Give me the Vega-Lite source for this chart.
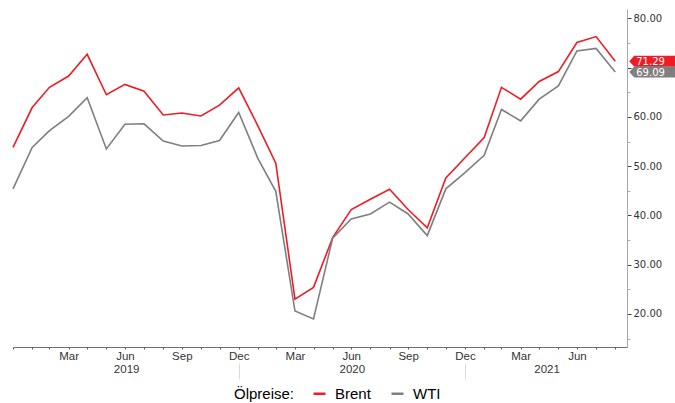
{
  "$schema": "https://vega.github.io/schema/vega-lite/v6.json",
  "autosize": {"type": "none"},
  "padding": {"left": 13, "top": 9, "right": 48, "bottom": 56},
  "width": 614,
  "height": 338,
  "background": "white",
  "config": {"view": {"stroke": null}},
  "data": {
    "values": [
      {"date": "2018-12-31", "Brent": 53.8, "WTI": 45.4},
      {"date": "2019-01-31", "Brent": 61.9, "WTI": 53.8},
      {"date": "2019-02-28", "Brent": 66.0, "WTI": 57.2},
      {"date": "2019-03-31", "Brent": 68.3, "WTI": 60.1},
      {"date": "2019-04-30", "Brent": 72.7, "WTI": 63.9},
      {"date": "2019-05-31", "Brent": 64.5, "WTI": 53.5},
      {"date": "2019-06-30", "Brent": 66.6, "WTI": 58.5},
      {"date": "2019-07-31", "Brent": 65.2, "WTI": 58.6},
      {"date": "2019-08-31", "Brent": 60.4, "WTI": 55.1},
      {"date": "2019-09-30", "Brent": 60.8, "WTI": 54.1},
      {"date": "2019-10-31", "Brent": 60.2, "WTI": 54.2},
      {"date": "2019-11-30", "Brent": 62.4, "WTI": 55.2},
      {"date": "2019-12-31", "Brent": 65.9, "WTI": 60.9},
      {"date": "2020-01-31", "Brent": 58.2, "WTI": 51.6},
      {"date": "2020-02-29", "Brent": 50.6, "WTI": 44.9},
      {"date": "2020-03-31", "Brent": 23.0, "WTI": 20.6},
      {"date": "2020-04-30", "Brent": 25.4, "WTI": 19.0},
      {"date": "2020-05-31", "Brent": 35.5, "WTI": 35.4},
      {"date": "2020-06-30", "Brent": 41.2, "WTI": 39.3},
      {"date": "2020-07-31", "Brent": 43.3, "WTI": 40.3},
      {"date": "2020-08-31", "Brent": 45.3, "WTI": 42.7},
      {"date": "2020-09-30", "Brent": 41.2, "WTI": 40.3},
      {"date": "2020-10-31", "Brent": 37.5, "WTI": 35.9},
      {"date": "2020-11-30", "Brent": 47.6, "WTI": 45.4},
      {"date": "2020-12-31", "Brent": 51.7, "WTI": 48.7},
      {"date": "2021-01-31", "Brent": 55.8, "WTI": 52.2},
      {"date": "2021-02-28", "Brent": 66.0, "WTI": 61.5},
      {"date": "2021-03-31", "Brent": 63.6, "WTI": 59.2},
      {"date": "2021-04-30", "Brent": 67.2, "WTI": 63.6},
      {"date": "2021-05-31", "Brent": 69.2, "WTI": 66.3},
      {"date": "2021-06-30", "Brent": 75.1, "WTI": 73.4},
      {"date": "2021-07-31", "Brent": 76.3, "WTI": 73.9},
      {"date": "2021-08-31", "Brent": 71.29, "WTI": 69.09}
    ]
  },
  "transform": [
    {"fold": ["Brent", "WTI"], "as": ["series", "value"]}
  ],
  "resolve": {"axis": {"x": "independent", "y": "independent"}},
  "layer": [
    {
      "mark": {"type": "line", "strokeWidth": 1.6},
      "encoding": {
        "x": {
          "field": "date", "type": "temporal",
          "scale": {"type": "utc", "domain": [{"year": 2018, "month": 12, "date": 31, "utc": true}, {"year": 2021, "month": 9, "date": 19, "utc": true}]},
          "axis": {
            "orient": "bottom", "title": null, "grid": false,
            "values": [
              {"year": 2018, "month": 12, "date": 31, "utc": true},
              {"year": 2019, "month": 1, "date": 31, "utc": true},
              {"year": 2019, "month": 2, "date": 28, "utc": true},
              {"year": 2019, "month": 3, "date": 31, "utc": true},
              {"year": 2019, "month": 4, "date": 30, "utc": true},
              {"year": 2019, "month": 5, "date": 31, "utc": true},
              {"year": 2019, "month": 6, "date": 30, "utc": true},
              {"year": 2019, "month": 7, "date": 31, "utc": true},
              {"year": 2019, "month": 8, "date": 31, "utc": true},
              {"year": 2019, "month": 9, "date": 30, "utc": true},
              {"year": 2019, "month": 10, "date": 31, "utc": true},
              {"year": 2019, "month": 11, "date": 30, "utc": true},
              {"year": 2019, "month": 12, "date": 31, "utc": true},
              {"year": 2020, "month": 1, "date": 31, "utc": true},
              {"year": 2020, "month": 2, "date": 29, "utc": true},
              {"year": 2020, "month": 3, "date": 31, "utc": true},
              {"year": 2020, "month": 4, "date": 30, "utc": true},
              {"year": 2020, "month": 5, "date": 31, "utc": true},
              {"year": 2020, "month": 6, "date": 30, "utc": true},
              {"year": 2020, "month": 7, "date": 31, "utc": true},
              {"year": 2020, "month": 8, "date": 31, "utc": true},
              {"year": 2020, "month": 9, "date": 30, "utc": true},
              {"year": 2020, "month": 10, "date": 31, "utc": true},
              {"year": 2020, "month": 11, "date": 30, "utc": true},
              {"year": 2020, "month": 12, "date": 31, "utc": true},
              {"year": 2021, "month": 1, "date": 31, "utc": true},
              {"year": 2021, "month": 2, "date": 28, "utc": true},
              {"year": 2021, "month": 3, "date": 31, "utc": true},
              {"year": 2021, "month": 4, "date": 30, "utc": true},
              {"year": 2021, "month": 5, "date": 31, "utc": true},
              {"year": 2021, "month": 6, "date": 30, "utc": true},
              {"year": 2021, "month": 7, "date": 31, "utc": true},
              {"year": 2021, "month": 8, "date": 31, "utc": true}
            ],
            "labelExpr": "(datum.value > utc(2019, 0, 15) && indexof([2, 5, 8, 11], utcmonth(datum.value)) >= 0) ? utcFormat(datum.value, '%b') : ''",
            "labelOverlap": false, "labelFlush": false,
            "labelFont": "Liberation Sans", "labelFontSize": 11.5, "labelColor": "#333333",
            "labelPadding": 1, "labelBaseline": "top",
            "tickSize": 2, "tickColor": "#555555", "domainColor": "#6e6e6e", "domainWidth": 1
          }
        },
        "y": {
          "field": "value", "type": "quantitative",
          "scale": {"domain": [13.3, 81.9], "nice": false, "zero": false},
          "axis": {
            "orient": "right", "title": null, "grid": false,
            "values": [20, 30, 40, 50, 60, 70, 80], "format": ".2f",
            "labelFont": "DejaVu Sans", "labelFontSize": 10, "labelColor": "#333333",
            "labelPadding": 2, "tickSize": 4, "tickColor": "#404040",
            "domainColor": "#a8a8a8"
          }
        },
        "color": {
          "field": "series", "type": "nominal",
          "scale": {"domain": ["Brent", "WTI"], "range": ["#ee1c24", "#7f7f7f"]},
          "legend": {
            "orient": "none", "legendX": 221, "legendY": 377,
            "direction": "horizontal", "title": "Ölpreise:", "titleOrient": "left",
            "titleFont": "Liberation Sans", "titleFontSize": 15, "titleFontWeight": "normal", "titleColor": "#000000",
            "titlePadding": 17, "titleBaseline": "middle",
            "labelFont": "Liberation Sans", "labelFontSize": 15, "labelColor": "#000000",
            "symbolType": "stroke", "symbolSize": 144, "symbolStrokeWidth": 2.5,
            "labelOffset": 8, "columnPadding": 15, "padding": 0
          }
        }
      }
    },
    {
      "transform": [{"filter": "time(datum.date) > utc(2021, 7, 15)"}],
      "mark": {"type": "point", "filled": true, "opacity": 1, "strokeWidth": 0, "size": 4, "shape": "M14,0L19,-5.5L80,-5.5L80,5.5L19,5.5Z"},
      "encoding": {
        "x": {
          "field": "date", "type": "temporal",
          "axis": {
            "orient": "bottom", "title": null, "grid": false, "domain": false, "ticks": false, "tickSize": 0,
            "values": [
              {"year": 2019, "month": 7, "date": 2, "utc": true},
              {"year": 2020, "month": 7, "date": 1, "utc": true},
              {"year": 2021, "month": 5, "date": 12, "utc": true}
            ],
            "labelExpr": "utcFormat(datum.value, '%Y')",
            "labelFont": "Liberation Sans", "labelFontSize": 11.5, "labelColor": "#333333",
            "labelPadding": 16, "labelBaseline": "top", "labelFlush": false, "labelOverlap": false
          }
        },
        "y": {
          "field": "value", "type": "quantitative",
          "axis": {
            "orient": "right", "title": null, "grid": false, "labels": false, "domain": false,
            "values": [15, 25, 35, 45, 55, 65, 75], "tickSize": 3, "tickColor": "#b0b0b0"
          }
        },
        "color": {"field": "series", "type": "nominal", "legend": null}
      }
    },
    {
      "transform": [{"filter": "time(datum.date) > utc(2021, 7, 15)"}],
      "mark": {"type": "text", "align": "left", "baseline": "middle", "dx": 21, "dy": 0.5, "color": "#ffffff", "font": "DejaVu Sans", "fontSize": 10},
      "encoding": {
        "x": {
          "field": "date", "type": "temporal",
          "axis": {
            "orient": "bottom", "title": null, "grid": false, "domain": false, "labels": false,
            "values": [
              {"year": 2019, "month": 12, "date": 31, "utc": true},
              {"year": 2020, "month": 12, "date": 31, "utc": true}
            ],
            "offset": 16, "tickSize": 16, "tickColor": "#dcdcdc", "tickWidth": 1
          }
        },
        "y": {"field": "value", "type": "quantitative", "axis": null},
        "text": {"field": "value", "type": "quantitative", "format": ".2f"}
      }
    }
  ]
}
